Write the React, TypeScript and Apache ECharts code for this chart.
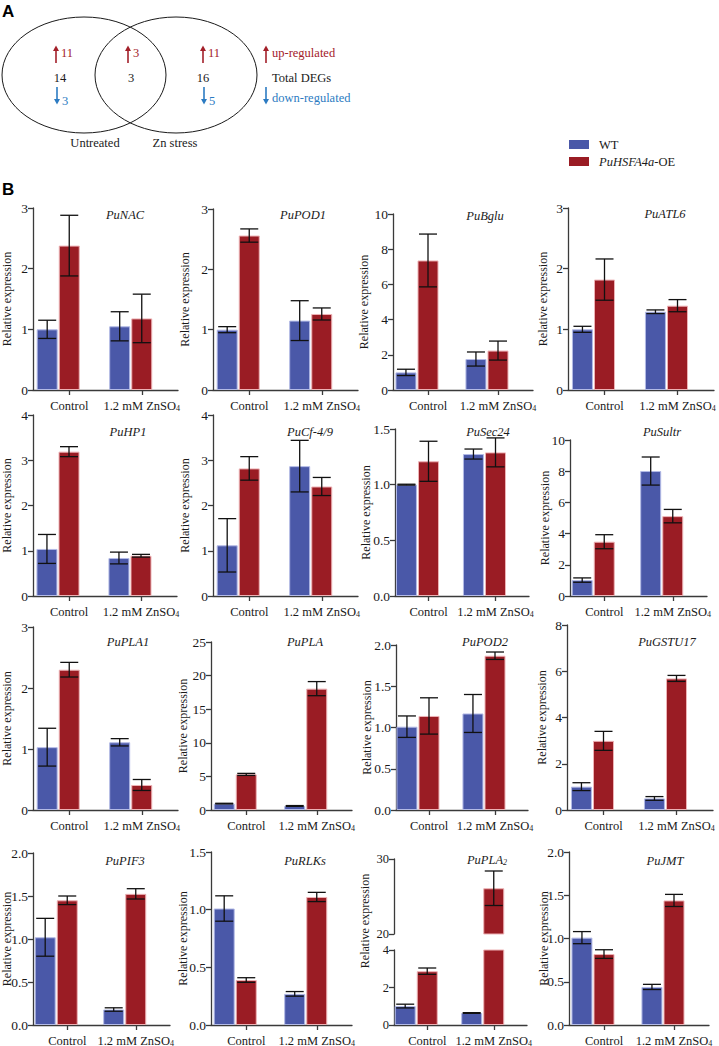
import React, { useEffect, useRef } from 'react';
import * as echarts from 'echarts';

// ---------------- data ----------------
const categories = ['Control', '1.2 mM ZnSO4'];
const seriesNames = ['WT', 'PuHSFA4a-OE'];
const genes = ['PuNAC', 'PuPOD1', 'PuBglu', 'PuATL6', 'PuHP1', 'PuCf-4/9', 'PuSec24', 'PuSultr',
  'PuPLA1', 'PuPLA', 'PuPOD2', 'PuGSTU17', 'PuPIF3', 'PuRLKs', 'PuPLA2', 'PuJMT'];

const wtMean = [[1.0, 1.05], [1.0, 1.15], [1.0, 1.76], [1.0, 1.29], [1.04, 0.84], [1.12, 2.87], [1.0, 1.275], [1.02, 8.01],
  [1.03, 1.11], [0.95, 0.6], [1.01, 1.17], [1.01, 0.5], [1.02, 0.18], [1.01, 0.27], [1.01, 0.64], [1.01, 0.44]];
const wtErr = [[0.15, 0.24], [0.05, 0.33], [0.18, 0.4], [0.05, 0.03], [0.32, 0.13], [0.59, 0.57], [0.004, 0.045], [0.14, 0.9],
  [0.31, 0.06], [0.05, 0.06], [0.13, 0.23], [0.17, 0.08], [0.22, 0.02], [0.11, 0.02], [0.1, 0.02], [0.07, 0.03]];
const oeMean = [[2.38, 1.18], [2.56, 1.26], [7.36, 2.24], [1.82, 1.39], [3.19, 0.89], [2.82, 2.42], [1.21, 1.29], [3.48, 5.12],
  [2.3, 0.41], [5.3, 18.06], [1.14, 1.87], [2.99, 5.69], [1.45, 1.525], [0.39, 1.11], [2.87, 26.1], [0.82, 1.44]];
const oeErr = [[0.5, 0.4], [0.11, 0.1], [1.5, 0.54], [0.34, 0.1], [0.11, 0.03], [0.26, 0.2], [0.18, 0.13], [0.45, 0.43],
  [0.12, 0.09], [0.15, 1.05], [0.22, 0.045], [0.41, 0.13], [0.05, 0.06], [0.02, 0.04], [0.17, 2.3], [0.05, 0.07]];

const yMax = [3, 3, 10, 3, 4, 4, 1.5, 10, 3, 25, 2, 8, 2, 1.5, 4, 2];
const yStep = [1, 1, 2, 1, 1, 1, 0.5, 2, 1, 5, 0.5, 2, 0.5, 0.5, 2, 0.5];
const brokenPanel = 14;
const breakRange = [20, 30];
const breakStep = 10;

const vennSets = ['Untreated', 'Zn stress'];
const vennUp = [11, 3, 11];
const vennTotal = [14, 3, 16];
const vennDown = [3, null, 5];
const vennKey = ['up-regulated', 'Total DEGs', 'down-regulated'];

// ---------------- layout ----------------
const panelLeft = [33, 213, 393, 568, 33, 213, 395, 570, 33, 211, 396, 567, 33, 211, 394, 569];
const panelRight = [178, 358, 533, 714, 177, 358, 529, 707, 178, 352, 528, 713, 170, 352, 527, 709];
const panelTop = [208, 209, 214, 208, 415, 415, 429, 440, 627, 642, 645, 625, 853, 852, 950, 852];
const rowBottom = [390, 596, 810, 1025];
const upperTop = 859;
const upperBottom = 934;
const colNameGap = [20, 22, 23, 19];
const titleX = [125, 303, 485, 665, 128, 310, 488, 662, 128, 305, 485, 667, 125, 305, 487, 665];
const titleY = [215, 215, 216, 214, 432, 432, 432, 432, 642, 642, 642, 642, 861, 861, 860, 861];

const SERIF = '"Liberation Serif", "Times New Roman", Times, serif';
const SANS = '"Liberation Sans", Arial, Helvetica, sans-serif';
const AXIS_COLOR = '#3a3a3a';
const TEXT = '#1a1a1a';
const BLUE = '#4A58A8';
const RED = '#9A1C24';
const VRED = '#A3202A';
const VBLUE = '#2C7BC2';
const BAR_W = 21;
const GAP = 0.05;
const CAP = 9;

function tickFmt(step: number) {
  return (v: number) => (step < 1 ? v.toFixed(1) : String(v));
}

function buildOption() {
  const grid: any[] = [];
  const xAxis: any[] = [];
  const yAxis: any[] = [];
  const series: any[] = [];

  const addPanel = (p: number, gi: number, top: number, bottom: number, min: number, max: number,
    step: number, showX: boolean, withName: boolean, labelSize: number) => {
    const left = panelLeft[p];
    const right = panelRight[p];
    grid.push({ left, top, width: right - left, height: bottom - top, containLabel: false, outerBoundsMode: 'none' });
    xAxis.push({
      type: 'category', gridIndex: gi, data: categories, show: showX, boundaryGap: true,
      axisLine: { show: true, lineStyle: { color: AXIS_COLOR, width: 1.3 } },
      axisTick: { show: true, alignWithLabel: true, length: 5, lineStyle: { color: AXIS_COLOR, width: 1.3 } },
      axisLabel: {
        interval: 0, margin: 9, fontFamily: SERIF, fontSize: 12.5, fontWeight: 'normal', color: TEXT,
        formatter: (v: string) => v.replace('SO4', 'SO{s|4}'),
        rich: { s: { fontFamily: SERIF, fontSize: 8, color: TEXT, verticalAlign: 'bottom' } },
      },
      splitLine: { show: false },
    });
    yAxis.push({
      type: 'value', gridIndex: gi, min, max, interval: step,
      axisLine: { show: true, lineStyle: { color: AXIS_COLOR, width: 1.3 } },
      axisTick: { show: true, length: 5, lineStyle: { color: AXIS_COLOR, width: 1.3 } },
      axisLabel: { margin: 5, fontFamily: SERIF, fontSize: labelSize, fontWeight: 'normal', color: TEXT, formatter: tickFmt(step) },
      splitLine: { show: false },
      name: withName ? 'Relative expression' : '',
      nameLocation: 'middle', nameGap: colNameGap[p % 4], nameMoveOverlap: false,
      nameTextStyle: { fontFamily: SERIF, fontSize: 12, fontWeight: 'normal', color: TEXT },
    });
    const barCommon = { type: 'bar', xAxisIndex: gi, yAxisIndex: gi, barWidth: BAR_W, barGap: GAP * 100 + '%', clip: true, z: 2 };
    series.push({ ...barCommon, name: seriesNames[0], data: wtMean[p], itemStyle: { color: BLUE, borderColor: '#B3BAE6', borderWidth: 1 } });
    series.push({ ...barCommon, name: seriesNames[1], data: oeMean[p], itemStyle: { color: RED, borderColor: '#EDB2B5', borderWidth: 1 } });
    series.push({ ...barCommon, name: 'spacer', data: ['-', '-'], silent: true });
    const errSeries = (means: number[], errs: number[], offset: number, nm: string) => ({
      type: 'custom', name: nm, xAxisIndex: gi, yAxisIndex: gi, clip: true, z: 5, silent: true,
      data: means.map((m, k) => [k, m, errs[k]]),
      encode: { x: 0, y: 1 },
      renderItem: (params: any, api: any) => {
        const k = api.value(0);
        const m = api.value(1);
        const e = api.value(2);
        if (m - e >= max || m + e <= min) return { type: 'group', children: [] };
        const pt = api.coord([k, m + e]);
        const pb = api.coord([k, m - e]);
        const x = pt[0] + offset;
        const st = { stroke: '#111', lineWidth: 1.3 };
        return {
          type: 'group',
          children: [
            { type: 'line', shape: { x1: x, y1: pt[1], x2: x, y2: pb[1] }, style: st },
            { type: 'line', shape: { x1: x - CAP, y1: pt[1], x2: x + CAP, y2: pt[1] }, style: st },
            { type: 'line', shape: { x1: x - CAP, y1: pb[1], x2: x + CAP, y2: pb[1] }, style: st },
          ],
        };
      },
    });
    series.push(errSeries(wtMean[p], wtErr[p], -BAR_W * (1 + GAP), 'WT error'));
    series.push(errSeries(oeMean[p], oeErr[p], 0, 'OE error'));
  };

  for (let p = 0; p < genes.length; p++) {
    const row = Math.floor(p / 4);
    const isBroken = p === brokenPanel;
    addPanel(p, p, panelTop[p], rowBottom[row], 0, yMax[p], yStep[p], true, !isBroken, isBroken ? 12.5 : 13.5);
  }
  // upper segment of the broken axis (PuPLA2)
  addPanel(brokenPanel, genes.length, upperTop, upperBottom, breakRange[0], breakRange[1], breakStep, false, false, 12.5);

  const graphic: any[] = [];
  const txt = (x: number, y: number, text: string, o: any = {}) => ({
    type: 'text', x, y, silent: true,
    style: { text, fontFamily: SERIF, fontSize: 12.5, fontWeight: 'normal', fill: TEXT, align: 'left', verticalAlign: 'middle', ...o },
  });
  const upArrow = (x: number, color: string) => [
    { type: 'line', silent: true, shape: { x1: x, y1: 63, x2: x, y2: 50 }, style: { stroke: color, lineWidth: 1.6 } },
    { type: 'polygon', silent: true, shape: { points: [[x - 3, 51], [x + 3, 51], [x, 45.5]] }, style: { fill: color } },
  ];
  const downArrow = (x: number, color: string) => [
    { type: 'line', silent: true, shape: { x1: x, y1: 87, x2: x, y2: 100 }, style: { stroke: color, lineWidth: 1.6 } },
    { type: 'polygon', silent: true, shape: { points: [[x - 3, 99], [x + 3, 99], [x, 104.5]] }, style: { fill: color } },
  ];

  // Panel letters
  graphic.push(txt(2, 3, 'A', { fontFamily: SANS, fontWeight: 'bold', fontSize: 17, verticalAlign: 'top', fill: '#000' }));
  graphic.push(txt(2, 181, 'B', { fontFamily: SANS, fontWeight: 'bold', fontSize: 17, verticalAlign: 'top', fill: '#000' }));

  // Venn
  graphic.push({ type: 'ellipse', silent: true, shape: { cx: 84, cy: 75, rx: 82, ry: 58 }, style: { fill: 'none', stroke: '#1a1a1a', lineWidth: 1 } });
  graphic.push({ type: 'ellipse', silent: true, shape: { cx: 176, cy: 75, rx: 81, ry: 58 }, style: { fill: 'none', stroke: '#1a1a1a', lineWidth: 1 } });
  const upX = [56, 128, 203];
  const totX = [60, 131, 203];
  const downX = [57, 0, 204];
  for (let i = 0; i < 3; i++) {
    graphic.push(...upArrow(upX[i], VRED));
    graphic.push(txt(upX[i] + 5, 53, String(vennUp[i]), { fill: VRED }));
    graphic.push(txt(totX[i], 78, String(vennTotal[i]), { align: 'center' }));
    if (vennDown[i] !== null) {
      graphic.push(...downArrow(downX[i], VBLUE));
      graphic.push(txt(downX[i] + 5, 101, String(vennDown[i]), { fill: VBLUE }));
    }
  }
  graphic.push(txt(95, 143, vennSets[0], { align: 'center' }));
  graphic.push(txt(175, 143, vennSets[1], { align: 'center' }));
  graphic.push(...upArrow(266, VRED));
  graphic.push(txt(272, 53, vennKey[0], { fill: VRED }));
  graphic.push(txt(272, 78, vennKey[1]));
  graphic.push(...downArrow(266, VBLUE));
  graphic.push(txt(272, 98, vennKey[2], { fill: VBLUE }));

  // gene titles
  for (let p = 0; p < genes.length; p++) {
    const g = genes[p];
    const isSub = g === 'PuPLA2';
    graphic.push(txt(titleX[p], titleY[p], isSub ? 'PuPLA{s|2}' : g, {
      align: 'center', fontStyle: 'italic', fontSize: 12.5,
      rich: isSub ? { s: { fontFamily: SERIF, fontStyle: 'italic', fontSize: 8, fill: TEXT, verticalAlign: 'bottom' } } : undefined,
    }));
  }
  // axis name for the broken-axis panel
  graphic.push({
    type: 'text', x: panelLeft[brokenPanel] - 29, y: 921, rotation: Math.PI / 2, silent: true,
    style: { text: 'Relative expression', fontFamily: SERIF, fontSize: 12, fill: TEXT, align: 'center', verticalAlign: 'middle' },
  });

  return {
    animation: false,
    backgroundColor: '#ffffff',
    textStyle: { fontFamily: SERIF, fontWeight: 'normal' },
    grid, xAxis, yAxis, series, graphic,
    legend: {
      data: seriesNames, orient: 'vertical', left: 569, top: 138, padding: 0,
      itemWidth: 20, itemHeight: 9, itemGap: 4, icon: 'rect', selectedMode: false,
      itemStyle: { borderWidth: 0 },
      textStyle: {
        fontFamily: SERIF, fontSize: 12.5, color: TEXT, padding: [0, 0, 0, 5],
        rich: { i: { fontFamily: SERIF, fontStyle: 'italic', fontSize: 12.5, color: TEXT } },
      },
      formatter: (n: string) => (n === 'WT' ? 'WT' : '{i|PuHSFA4a}-OE'),
    },
  };
}

export default function App() {
  const ref = useRef<HTMLDivElement>(null);
  useEffect(() => {
    document.body.style.margin = '0';
    const chart = echarts.init(ref.current as HTMLDivElement, null, { renderer: 'svg' });
    chart.setOption(buildOption() as any);
    return () => chart.dispose();
  }, []);
  return <div ref={ref} style={{ width: 719, height: 1046 }} />;
}
